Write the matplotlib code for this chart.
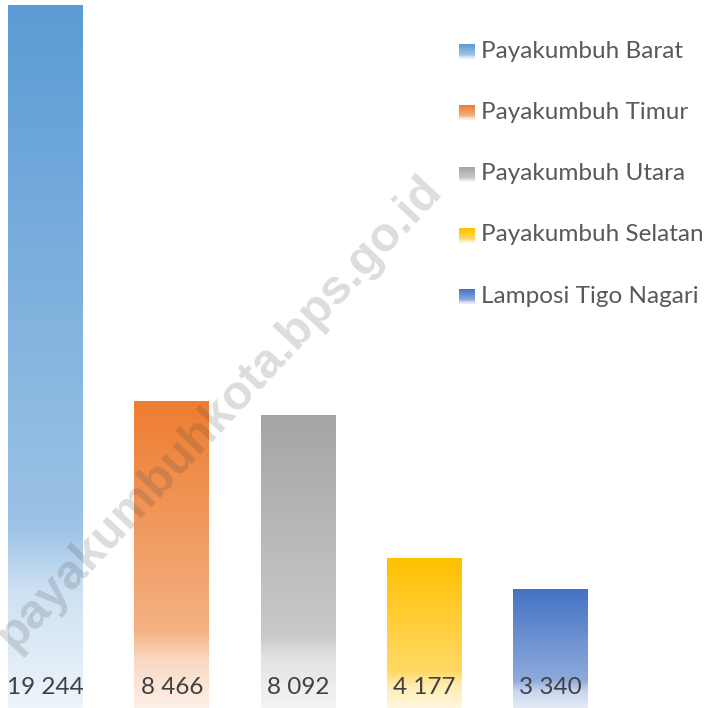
import numpy as np
import matplotlib
matplotlib.use("Agg")
import matplotlib.pyplot as plt
from matplotlib.colors import to_rgb

categories = ["Payakumbuh Barat", "Payakumbuh Timur", "Payakumbuh Utara",
              "Payakumbuh Selatan", "Lamposi Tigo Nagari"]
values = [19244, 8466, 8092, 4177, 3340]
value_labels = ["19 244", "8 466", "8 092", "4 177", "3 340"]
colors = ["#5B9BD5", "#ED7D31", "#A5A5A5", "#FFC000", "#4472C4"]

FONT = "Lato"
W, H = 709, 708


def mix(c, t):
    c = np.array(to_rgb(c))
    return c + (1 - c) * t


def gradient(c, n=400):
    stops = [0.0, 0.74, 0.83, 1.0]
    tints = [0.0, 0.40, 0.70, 0.90]
    pos = np.linspace(0, 1, n)
    cols = np.array([mix(c, t) for t in tints])
    arr = np.stack([np.interp(pos, stops, cols[:, k]) for k in range(3)], axis=1)
    return arr[:, None, :]


fig = plt.figure(figsize=(W / 100, H / 100), dpi=100)
px_per_unit_x = 126.25
left_x = -45.5 / px_per_unit_x
ax = fig.add_axes([0, -4 / H, 1, (H + 4) / H])
ax.axis("off")

bw = 0.594
for i, (v, c) in enumerate(zip(values, colors)):
    ax.imshow(gradient(c), extent=(i - bw / 2, i + bw / 2, 0, v),
              aspect="auto", interpolation="bilinear", zorder=2)
    ax.annotate(value_labels[i], xy=(i, 0), xytext=(0, 24 * 0.72),
                textcoords="offset points", ha="center", va="center",
                fontsize=17.5, family=FONT, color="#404040", zorder=4)
ax.set_xlim(left_x, left_x + W / px_per_unit_x)
ax.set_ylim(0, (H + 4) / 0.0367)

ov = fig.add_axes([0, 0, 1, 1])
ov.axis("off")
ov.patch.set_alpha(0)

for i, (name, c) in enumerate(zip(categories, colors)):
    yc = 51 + i * 61.3
    g = gradient(c, 50)
    ov.imshow(g, extent=(459, 475, yc + 8, yc - 7), aspect="auto",
              interpolation="bilinear")
    ov.text(481, yc, name, fontsize=17.5, family=FONT, color="#595959",
            va="center", ha="left")
ov.set_xlim(0, W)
ov.set_ylim(H, 0)

ov.text(220, 413, "payakumbuhkota.bps.go.id", rotation=47, fontsize=35,
        fontweight="bold", family="Liberation Sans", color="#404040",
        alpha=0.18, ha="center", va="center", rotation_mode="anchor", zorder=10)

fig.savefig("out.png", dpi=100)
